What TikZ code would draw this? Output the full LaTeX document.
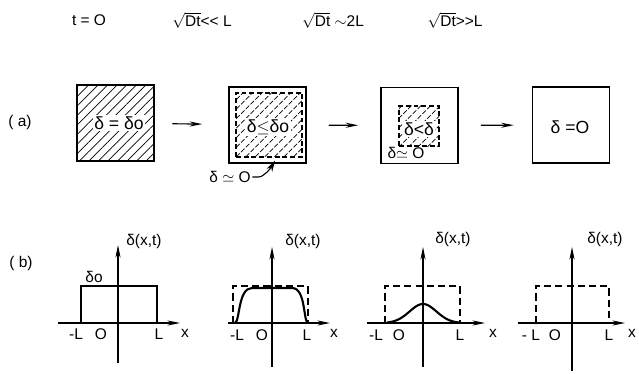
\documentclass[tikz,border=0pt]{standalone}
\usepackage{fontspec}
\setmainfont{Liberation Sans}
\usetikzlibrary{arrows.meta, positioning, calc, patterns.meta}

\begin{document}
\begin{tikzpicture}[
    x=0.025cm, y=-0.025cm,
    box/.style={draw, line width=0.9pt, minimum width=1.93cm,
      minimum height=1.9cm},
    hatch/.style={draw, dash pattern=on 3.5pt off 2pt, line width=0.8pt,
      pattern={Lines[angle=45, distance=4.8pt, line width=0.5pt]}},
    val/.style={fill=white, inner sep=1pt, font=\fontsize{12.5}{14}\selectfont},
    lab/.style={inner sep=1pt, font=\fontsize{11}{13}\selectfont},
    flow/.style={-{Stealth[length=9pt, width=3.6pt]}, line width=0.8pt},
    axis/.style={-{Stealth[length=9pt, width=3.6pt]}, line width=0.8pt},
    level/.style={dash pattern=on 5pt off 3pt, line width=0.8pt},
    prof/.style={line width=1.5pt}
  ]
  \useasboundingbox (0,0) rectangle (639,374);

  % time headings
  \node[lab] (hd1) at (89,20) {t = O};
  \node[lab] (hd2) at (202,20) {$\sqrt{\mbox{Dt}}${<}{<} L};
  \node[lab] (hd3) at (333,20) {$\sqrt{\mbox{Dt}}\sim$2L};
  \node[lab] (hd4) at (455,20) {$\sqrt{\mbox{Dt}}${>}{>}L};

  % (a) squares
  \node[lab] (rowa) at (20,122) {( a)};
  \node[box, pattern={Lines[angle=45, distance=4.8pt, line width=0.5pt]}]
    (sq1) at (115.5,123) {};
  \node[val] (v1) at (119,123) {δ = δo};

  \node[box] (sq2) at (267.5,125) {};
  \node[hatch, minimum width=1.65cm, minimum height=1.6cm] (in2) at (269,125) {};
  \node[val] (v2) at (268,127) {δ$\le$δo};
  \node[lab] (z2) at (230,177) {δ $\simeq$ O};
  \draw[-{Stealth[length=8pt, width=4.5pt]}, line width=0.8pt]
    (z2.east) -- ++(6,0) .. controls +(6,0) and +(-4,7) .. ($(in2.south)+(6,3)$);

  \node[box] (sq3) at (419.5,125.5) {};
  \node[hatch, minimum width=1cm, minimum height=1cm] (in3) at (419,126) {};
  \node[val] (v3) at (419,129) {δ<δ};
  \node[lab] (z3) at (406,153) {δ$\simeq$ O};

  \node[box] (sq4) at (571,125) {};
  \node[val] (v4) at (570,127) {δ =O};

  \draw[flow, shorten <=0.45cm, shorten >=0.65cm] (sq1) -- (sq2);
  \draw[flow, shorten <=0.55cm, shorten >=0.55cm] (sq2) -- (sq3);
  \draw[flow, shorten <=0.55cm, shorten >=0.45cm] (sq3) -- (sq4);

  % (b) profiles
  \node[lab] (rowb) at (21,263) {( b)};

  \begin{scope}[shift={(118,323)}]
    \coordinate (o1) at (0,0);
    \draw[axis] (-60,0) -- (62,0);
    \draw[axis] (0,40) -- (0,-78);
    \draw[line width=0.8pt] (-37,0) -- (-37,-37) -- (39,-37) -- (39,0);
    \node[lab] (d1) at (26,-82) {δ(x,t)};
    \node[lab] (s1) at (-24,-46) {δo};
    \node[lab] (m1) at (-42,11) {-L};
    \node[lab] (c1) at (-17,11) {O};
    \node[lab] (p1) at (41,11) {L};
    \node[lab] (x1) at (67,10) {x};
  \end{scope}

  \begin{scope}[shift={(272,323)}]
    \coordinate (o2) at (0,0);
    \draw[axis] (-44,0) -- (58,0);
    \draw[axis] (0,44) -- (0,-76);
    \draw[level] (-39,0) -- (-39,-37) -- (36,-37) -- (36,0);
    \draw[prof] (-37,0) .. controls (-32,-2) and (-34,-35) .. (-20,-35)
      -- (20,-35) .. controls (34,-35) and (31,-2) .. (36,0);
    \node[lab] (d2) at (31,-82) {δ(x,t)};
    \node[lab] (m2) at (-35,12) {-L};
    \node[lab] (c2) at (-10,12) {O};
    \node[lab] (p2) at (35,12) {L};
    \node[lab] (x2) at (62,10) {x};
  \end{scope}

  \begin{scope}[shift={(423,323)}]
    \coordinate (o3) at (0,0);
    \draw[axis] (-56,0) -- (62,0);
    \draw[axis] (0,44) -- (0,-76);
    \draw[level] (-38,0) -- (-38,-37) -- (37,-37) -- (37,0);
    \draw[prof, domain=-36:36, samples=50]
      plot (\x, {-19*exp(-(\x/19)^2)});
    \node[lab] (d3) at (30,-84) {δ(x,t)};
    \node[lab] (m3) at (-47,12) {-L};
    \node[lab] (c3) at (-24,12) {O};
    \node[lab] (p3) at (37,12) {L};
    \node[lab] (x3) at (70,10) {x};
  \end{scope}

  \begin{scope}[shift={(572,323)}]
    \coordinate (o4) at (0,0);
    \draw[axis] (-54,0) -- (53,0);
    \draw[axis] (0,48) -- (0,-76);
    \draw[level] (-36,0) -- (-36,-37) -- (37,-37) -- (37,0);
    \node[lab] (d4) at (33,-84) {δ(x,t)};
    \node[lab] (m4) at (-41,12) {- L};
    \node[lab] (c4) at (-17,12) {O};
    \node[lab] (p4) at (37,12) {L};
    \node[lab] (x4) at (60,10) {x};
  \end{scope}
\end{tikzpicture}
\end{document}
